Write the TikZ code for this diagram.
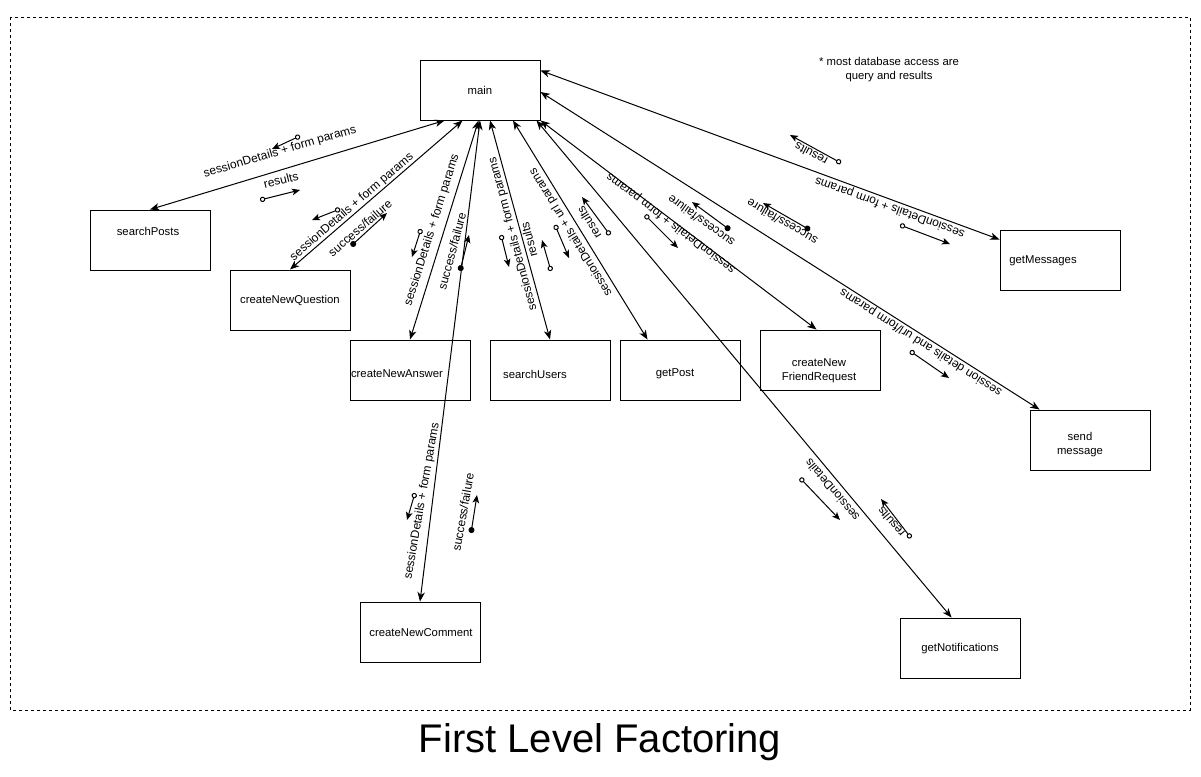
\documentclass[tikz,border=0pt]{standalone}
\usepackage{fontspec}
\setmainfont{Liberation Sans}
\usepackage{tikz}
\usetikzlibrary{calc}
\usetikzlibrary{arrows.meta}

\begin{document}
\begin{tikzpicture}[x=0.75pt,y=-0.75pt,
	box/.style={draw,line width=0.75pt,minimum width=90pt,minimum height=45pt,inner sep=0pt},
	boxtxt/.style={inner sep=0pt,align=center,font=\fontsize{8.5}{10.5}\selectfont},
	link/.style={line width=0.75pt,{Stealth[length=7pt,width=5.5pt,inset=2pt]}-{Stealth[length=7pt,width=5.5pt,inset=2pt]}},
	lbl/.style={inner sep=0pt,font=\fontsize{9}{11}\selectfont},
	msgopen/.style={line width=0.75pt,{Circle[fill=white,length=4pt]}-{Stealth[length=6pt,width=5pt,inset=1.5pt]}},
	msgdot/.style={line width=0.75pt,{Circle[length=4.5pt]}-{Stealth[length=6pt,width=5pt,inset=1.5pt]}}]
	\useasboundingbox (0,0) rectangle (1201,776);
	\draw[dash pattern=on 2.25pt off 2.25pt,line width=0.6pt] (10,17) rectangle (1190,710);
	\node[font=\fontsize{30}{36}\selectfont] (title) at (600,742) {First Level Factoring};
	\node[boxtxt] (note) at (889,70) {* most database access are\\query and results};
	% boxes
	\node[box] (main) at (480,90) {};
	\node[box] (sp) at (150,240) {};
	\node[box] (cnq) at (290,300) {};
	\node[box] (cna) at (410,370) {};
	\node[box] (su) at (550,370) {};
	\node[box] (gp) at (680,370) {};
	\node[box] (cnfr) at (820,360) {};
	\node[box] (gm) at (1060,260) {};
	\node[box] (sm) at (1090,440) {};
	\node[box] (cnc) at (420,632) {};
	\node[box] (gn) at (960,648) {};
	% box texts
	\node[boxtxt] (maint) at (main) {main};
	\node[boxtxt] (spt) at ($(sp)+(-2,-9)$) {searchPosts};
	\node[boxtxt] (cnqt) at (cnq) {createNewQuestion};
	\node[boxtxt] (cnat) at ($(cna)+(-13,4)$) {createNewAnswer};
	\node[boxtxt] (sut) at ($(su)+(-15,4)$) {searchUsers};
	\node[boxtxt] (gpt) at ($(gp)+(-5,4)$) {getPost};
	\node[boxtxt] (cnfrt) at ($(cnfr)+(-1,11)$) {createNew\\FriendRequest};
	\node[boxtxt] (gmt) at ($(gm)+(-17,1)$) {getMessages};
	\node[boxtxt] (smt) at ($(sm)+(-10,5)$) {send\\message};
	\node[boxtxt] (cnct) at ($(cnc)+(1,1)$) {createNewComment};
	\node[boxtxt] (gnt) at ($(gn)+(0,1)$) {getNotifications};
	% links out of main
	\draw[link] ($(main.south west)+(25,0)$) -- (sp.north);
	\draw[link] ($(main.south west)+(43,0)$) -- (cnq.north);
	\draw[link] ($(main.south west)+(59,0)$) -- (cna.north);
	\draw[link] (main.south) -- (cnc.north);
	\draw[link] ($(main.south)+(10,0)$) -- (su.north);
	\draw[link] ($(main.south)+(33,0)$) -- ($(gp.north west)+(28,0)$);
	\draw[link] ($(main.south east)+(-4,0)$) -- ($(gn.north west)+(52,0)$);
	\draw[link] (main.south east) -- ($(cnfr.north west)+(57,0)$);
	\draw[link] ($(main.east)+(0,2)$) -- ($(sm.north west)+(10,0)$);
	\draw[link] ($(main.north east)+(0,11)$) -- ($(gm.north west)+(0,10)$);
	% searchPosts
	\node[lbl,rotate=16.5] (lsp1) at (280,152) {sessionDetails + form params};
	\node[lbl,rotate=14] (lsp2) at (281,180) {results};
	\draw[msgopen] (300,136) -- (272,149);
	\draw[msgopen] (260,200) -- (300,190);
	% createNewQuestion
	\node[lbl,rotate=40.7] (lcnq1) at (352,207) {sessionDetails + form params};
	\node[lbl,rotate=40.7] (lcnq2) at (360,228) {success/failure};
	\draw[msgopen] (340,209) -- (312,220);
	\draw[msgdot] (351,246) -- (387,213);
	% createNewAnswer
	\node[lbl,rotate=72.5] (lcna1) at (432,230) {sessionDetails + form params};
	\node[lbl,rotate=75] (lcna2) at (452,251) {success/failure};
	\draw[msgopen] (421,229) -- (412,257);
	\draw[msgdot] (460,271) -- (469,235);
	% createNewComment
	\node[lbl,rotate=80] (lcnc1) at (422,501) {sessionDetails + form params};
	\node[lbl,rotate=80] (lcnc2) at (463,512) {success/failure};
	\draw[msgopen] (415,493) -- (407,520);
	\draw[msgdot] (471,533) -- (477,495);
	% searchUsers
	\node[lbl,rotate=105] (lsu1) at (513,234) {sessionDetails + form params};
	\node[lbl,rotate=105] (lsu2) at (529,240) {results};
	\draw[msgopen] (501,235) -- (509,267);
	\draw[msgopen] (551,271) -- (542,240);
	% getPost
	\node[lbl,rotate=121.5] (lgp1) at (571,232) {sessionDetails + url params};
	\node[lbl,rotate=121.5] (lgp2) at (589,223) {results};
	\draw[msgopen] (555,225) -- (569,258);
	\draw[msgopen] (610,235) -- (582,197);
	% createNewFriendRequest
	\node[lbl,rotate=142.8] (lcnfr1) at (671,223) {sessionDetails + form params};
	\node[lbl,rotate=144] (lcnfr2) at (701,221) {success/failure};
	\draw[msgopen] (645,215) -- (678,248);
	\draw[msgdot] (730,230) -- (692,202);
	% send message
	\node[lbl,rotate=150] (lsm1) at (782,222) {success/failure};
	\node[lbl,rotate=147.5] (lsm2) at (921,342) {session details and url/form params};
	\draw[msgdot] (810,230) -- (763,203);
	\draw[msgopen] (910,351) -- (949,378);
	% getMessages
	\node[lbl,rotate=152] (lgm1) at (811,154) {results};
	\node[lbl,rotate=160] (lgm2) at (890,207) {sessionDetails + form params};
	\draw[msgopen] (841,163) -- (790,135);
	\draw[msgopen] (900,225) -- (950,244);
	% getNotifications
	\node[lbl,rotate=130] (lgn1) at (832,490) {sessionDetails};
	\node[lbl,rotate=130] (lgn2) at (891,522) {results};
	\draw[msgopen] (800,478) -- (840,520);
	\draw[msgopen] (911,538) -- (881,499);
\end{tikzpicture}
\end{document}
